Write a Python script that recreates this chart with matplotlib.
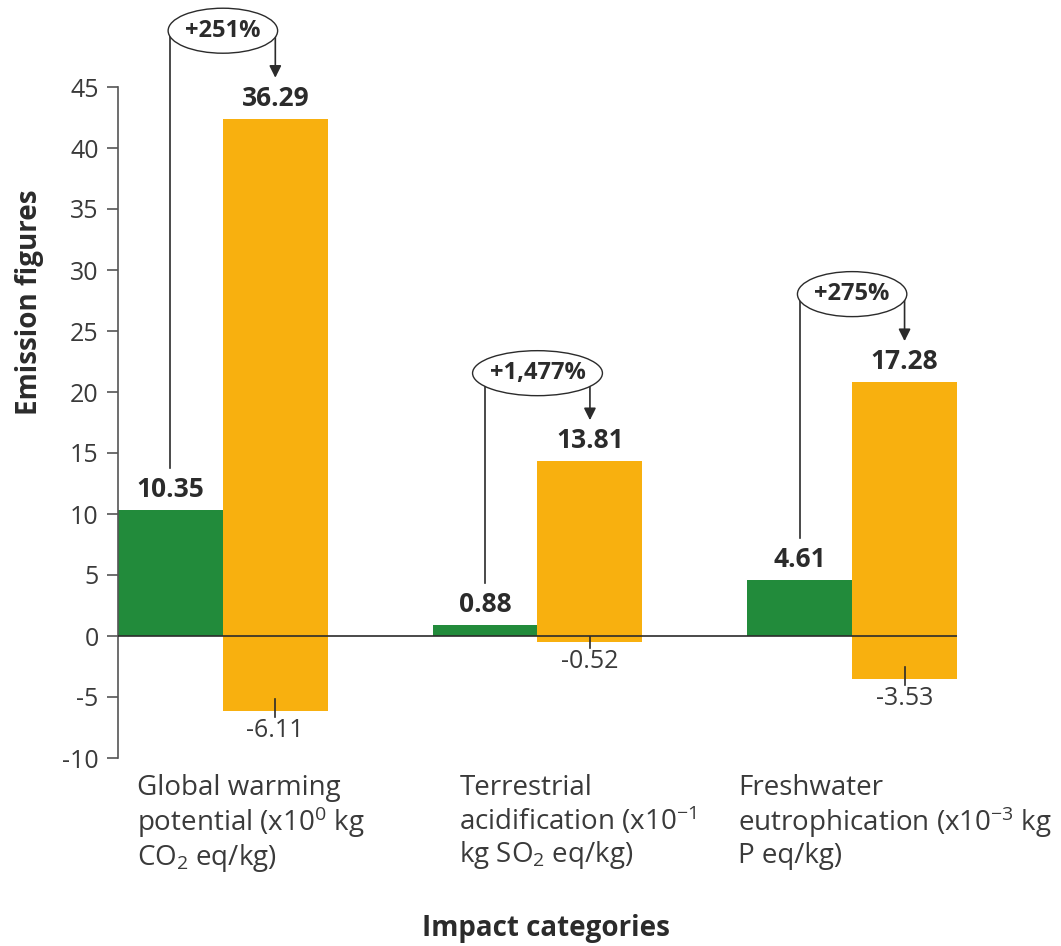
import matplotlib
matplotlib.use("Agg")
import matplotlib.pyplot as plt
from matplotlib.patches import Ellipse
import numpy as np

categories = ["Global warming\npotential (x10$^{0}$ kg\nCO$_{2}$ eq/kg)",
              "Terrestrial\nacidification (x10$^{-1}$\nkg SO$_{2}$ eq/kg)",
              "Freshwater\neutrophication (x10$^{-3}$ kg\nP eq/kg)"]
green_vals = [10.35, 0.88, 4.61]
orange_net = [36.29, 13.81, 17.28]
orange_neg = [-6.11, -0.52, -3.53]
pct_labels = ["+251%", "+1,477%", "+275%"]
yticks = list(range(-10, 50, 5))

GREEN = "#228B3B"
ORANGE = "#F8B00F"
DARK = "#2b2b2b"
GREY = "#3a3a3a"
FONT = "Open Sans"

plt.rcParams["font.family"] = [FONT, "DejaVu Sans"]
plt.rcParams["axes.unicode_minus"] = False
plt.rcParams["mathtext.fontset"] = "custom"
plt.rcParams["mathtext.rm"] = FONT
plt.rcParams["mathtext.it"] = FONT + ":italic"
plt.rcParams["mathtext.bf"] = FONT + ":bold"

fig = plt.figure(figsize=(10.61, 9.46), dpi=100)
ax = fig.add_axes([118 / 1061, 188 / 946, 839 / 1061, 671 / 946])

w = 1 / 3
x = np.arange(len(categories))
# orange bar: negative part below zero, net value = positive part + negative part
orange_top = [n - m for n, m in zip(orange_net, orange_neg)]
ax.bar(x - w / 2, green_vals, w, color=GREEN, zorder=2)
ax.bar(x + w / 2, [t - m for t, m in zip(orange_top, orange_neg)], w,
       bottom=orange_neg, color=ORANGE, zorder=2)
ax.set_xlim(-w, len(x) - 1 + w)
ax.set_ylim(-10, 45)
ax.axhline(0, color=DARK, lw=1.2, zorder=3)

for s in ["top", "right", "bottom"]:
    ax.spines[s].set_visible(False)
ax.spines["left"].set_color("#555555")
ax.spines["left"].set_linewidth(1.2)
ax.set_xticks([])
ax.set_yticks(yticks)
ax.tick_params(axis="y", length=8, width=1.2, color="#555555",
               labelsize=18, labelcolor=GREY, pad=6)

# pixel -> data helpers
dx = lambda px: px * (ax.get_xlim()[1] - ax.get_xlim()[0]) / 839
dy = lambda px: px * 55 / 671

for i in range(len(x)):
    xg = x[i] - w / 2
    xo = x[i] + w / 2
    top = orange_top[i]
    # value labels
    ax.text(xg, green_vals[i] + dy(7), f"{green_vals[i]:.2f}", ha="center",
            va="bottom", fontsize=19, fontweight="bold", color=DARK)
    ax.text(xo, top + dy(7), f"{orange_net[i]:.2f}", ha="center",
            va="bottom", fontsize=19, fontweight="bold", color=DARK)
    # negative part label
    neg = orange_neg[i]
    ax.plot([xo, xo], [min(neg + dy(12), -dy(1)), neg - dy(6)], color=DARK,
            lw=1.2, zorder=3)
    ax.text(xo, neg - dy(7), f"{neg:.2f}", ha="center", va="top",
            fontsize=18, color=GREY)
    # percentage bubble
    ey = top + dy(88)
    ax.plot([xg, xg], [green_vals[i] + dy(42), ey], color=DARK, lw=1.2,
            zorder=3, clip_on=False)
    ax.annotate("", xy=(xo, top + dy(41)), xytext=(xo, ey),
                arrowprops=dict(arrowstyle="-|>", color=DARK, lw=1.2,
                                mutation_scale=18, shrinkA=0, shrinkB=0),
                annotation_clip=False, zorder=3)
    pt = ax.text(x[i], ey, pct_labels[i], ha="center", va="center",
                 fontsize=17, fontweight="bold", color=DARK, zorder=6)
    fig.canvas.draw()
    bw = pt.get_window_extent().width + 34
    ax.add_patch(Ellipse((x[i], ey), dx(bw), dy(45), facecolor="white",
                         edgecolor=DARK, lw=1.0, zorder=5, clip_on=False))

# category labels
label_shift = [-86, -78, -114]
for i, lab in enumerate(categories):
    ax.text(x[i] + dx(label_shift[i]), -10 - dy(16), lab, ha="left", va="top",
            fontsize=20, color=GREY, linespacing=1.1, clip_on=False)

fig.text(30 / 1061, 1 - 302 / 946, "Emission figures", rotation=90,
         ha="center", va="center", fontsize=20, fontweight="bold", color=DARK)
fig.text(546 / 1061, 1 - 928 / 946, "Impact categories", ha="center",
         va="center", fontsize=20, fontweight="bold", color=DARK)

fig.savefig("out.png", dpi=100)
